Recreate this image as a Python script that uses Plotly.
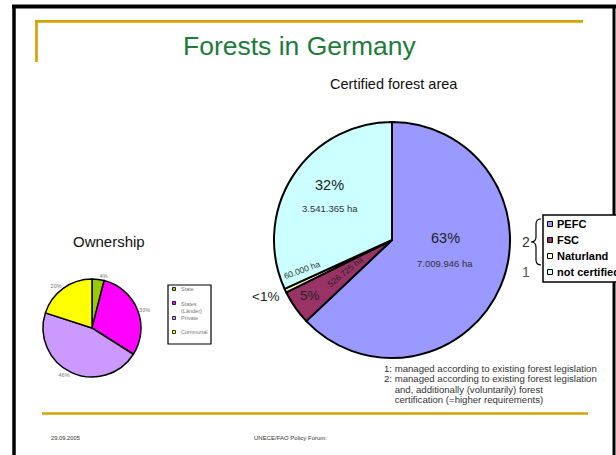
import plotly.graph_objects as go

W, H = 616, 455

# Ownership pie
own_labels = ['State', 'States<br>(Länder)', 'Private', 'Communal']
own_values = [4, 30, 46, 20]
own_colors = ['#99cc00', '#ff00ff', '#cc99ff', '#ffff00']

# Certified forest area pie
cert_labels = ['PEFC', 'FSC', 'Naturland', 'not certified']
cert_ha = [7009946, 526725, 60000, 3541365]
cert_pct = ['63%', '5%', '<1%', '32%']
cert_ha_text = ['7.009.946 ha', '526.725 ha', '60.000 ha', '3.541.365 ha']
cert_colors = ['#9999ff', '#993366', '#ffffcc', '#ccffff']

notes = ['1: managed according to existing forest legislation',
         '2: managed according to existing forest legislation',
         '    and, additionally (voluntarily) forest',
         '    certification (=higher requirements)']

FONT = 'Arial, Liberation Sans, sans-serif'


def px(x):
    return x / W


def py(y):
    return 1 - y / H


fig = go.Figure()

fig.add_trace(go.Pie(
    labels=own_labels, values=own_values, sort=False, direction='clockwise',
    rotation=0, marker=dict(colors=own_colors, line=dict(color='black', width=1.5)),
    texttemplate='%{percent:.0%}', textposition='outside',
    textfont=dict(size=5.5, color='#777777', family=FONT),
    domain=dict(x=[px(43), px(141)], y=[py(377), py(279)]),
    showlegend=False, hoverinfo='label+percent'))

fig.add_trace(go.Pie(
    labels=cert_labels, values=cert_ha, sort=False, direction='clockwise',
    rotation=0, marker=dict(colors=cert_colors, line=dict(color='black', width=2)),
    textinfo='none',
    domain=dict(x=[px(273), px(511)], y=[py(358), py(122)]),
    showlegend=False, hoverinfo='label+value+percent'))

shapes = []
ann = []


def line(x0, y0, x1, y1, color, width):
    shapes.append(dict(type='line', xref='paper', yref='paper',
                       x0=px(x0), y0=py(y0), x1=px(x1), y1=py(y1),
                       line=dict(color=color, width=width)))


def text(x, y, s, size, color='#222222', angle=0, xanchor='center', bold=False):
    if bold:
        s = '<b>' + s + '</b>'
    ann.append(dict(x=px(x), y=py(y), xref='paper', yref='paper', text=s,
                    showarrow=False, xanchor=xanchor, yanchor='middle',
                    align='left' if xanchor == 'left' else 'center',
                    textangle=angle, font=dict(size=size, color=color, family=FONT)))


# slide frame
gold = '#d8a300'
line(12, 6.5, 616, 6.5, 'black', 4)
line(14, 5, 14, 455, 'black', 3.5)
line(614, 5, 614, 455, 'black', 3)
line(35, 21.3, 583, 21.3, gold, 2.7)
line(36.5, 20, 36.5, 62, gold, 2.7)
line(42, 413.5, 588, 413.5, gold, 2.7)

text(299, 46, 'Forests in Germany', 26.5, '#1e7b3c')
text(394, 84, 'Certified forest area', 14.5, '#111111')
text(109, 241, 'Ownership', 15, '#111111')

# certified pie labels
text(445, 238, cert_pct[0], 14.5)
text(445, 263, cert_ha_text[0], 9.5, '#333333')
text(329, 185, cert_pct[3], 14.5)
text(330, 209, cert_ha_text[3], 9.5, '#333333')
text(310, 295, cert_pct[1], 13.5)
text(345, 272, cert_ha_text[1], 8.5, '#222222', angle=-39)
text(302, 270, cert_ha_text[2], 8.5, '#333333', angle=-20)
text(265, 296, cert_pct[2], 13.5)

# certified legend
shapes.append(dict(type='rect', xref='paper', yref='paper',
                   x0=px(543), y0=py(282), x1=px(640), y1=py(215),
                   line=dict(color='black', width=1.5), fillcolor='white'))
for i, (lab, col) in enumerate(zip(cert_labels, cert_colors)):
    yc = 224 + i * 16
    shapes.append(dict(type='rect', xref='paper', yref='paper',
                       x0=px(547.5), y0=py(yc + 2.5), x1=px(552.5), y1=py(yc - 2.5),
                       line=dict(color='black', width=1), fillcolor=col))
    text(555, yc, lab, 11, '#000000', xanchor='left', bold=True)

# brace with footnote markers
b = [(541, 219), (536, 219), (536, 224), (536, 237), (536, 242), (531, 242),
     (536, 242), (536, 247), (536, 260), (536, 265), (541, 265)]
path = 'M {} {} Q {} {} {} {} L {} {} Q {} {} {} {} Q {} {} {} {} L {} {} Q {} {} {} {}'.format(
    *[v for p in b for v in (px(p[0]), py(p[1]))])
shapes.append(dict(type='path', xref='paper', yref='paper', path=path,
                   line=dict(color='black', width=1.2)))
text(526, 242, '2', 14, '#333333')
text(526, 272, '1', 14, '#555555')

# ownership legend
shapes.append(dict(type='rect', xref='paper', yref='paper',
                   x0=px(168), y0=py(344), x1=px(211), y1=py(285),
                   line=dict(color='black', width=1.2), fillcolor='white'))
own_y = [289, 303, 318, 332]
for lab, col, yc in zip(own_labels, own_colors, own_y):
    shapes.append(dict(type='rect', xref='paper', yref='paper',
                       x0=px(172.5), y0=py(yc + 1.5), x1=px(175.5), y1=py(yc - 1.5),
                       line=dict(color='black', width=0.8), fillcolor=col))
    yt = yc + 4 if '<br>' in lab else yc
    text(179, yt, lab, 5.5, '#777777', xanchor='left')

# footnotes
for i, s in enumerate(notes):
    ann.append(dict(x=px(382), y=py(368 + i * 10.5), xref='paper', yref='paper',
                    text=s.replace('    ', '&nbsp;&nbsp;&nbsp;&nbsp;'), showarrow=False,
                    xanchor='left', yanchor='middle', align='left',
                    font=dict(size=9.6, color='#333333', family=FONT)))

# footer
text(49, 438, '29.09.2005', 5.8, '#333333', xanchor='left')
text(290, 438, 'UNECE/FAO Policy Forum:', 6, '#333333')

fig.update_layout(
    width=W, height=H, margin=dict(l=0, r=0, t=0, b=0),
    paper_bgcolor='white', plot_bgcolor='white',
    shapes=shapes, annotations=ann, showlegend=False,
)

fig.write_html('out.html', config={'displayModeBar': False},
               post_script="document.body.style.margin='0px';")
